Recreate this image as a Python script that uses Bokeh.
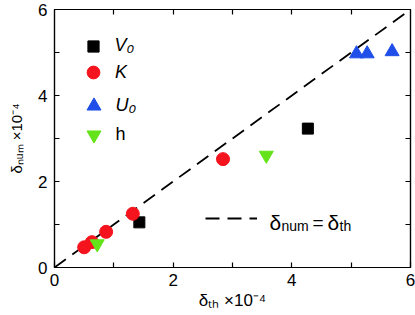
from bokeh.plotting import figure
from bokeh.models import Range1d, FixedTicker, LinearAxis, Legend, LegendItem, Label
from bokeh.embed import file_html
from bokeh.resources import INLINE

# ---- data (units of 1e-4) ----
v0_x = [1.43, 4.27]
v0_y = [1.05, 3.23]
k_x = [0.50, 0.63, 0.87, 1.32, 2.84]
k_y = [0.47, 0.59, 0.83, 1.25, 2.52]
u0_x = [5.09, 5.27, 5.69]
u0_y = [4.97, 4.97, 5.02]
h_x = [0.72, 3.57]
h_y = [0.55, 2.61]
ref_x = [0, 6]
ref_y = [0, 6]
major_ticks = [0, 2, 4, 6]
minor_ticks = [1, 3, 5]
mirror_ticks = [1, 2, 3, 4, 5]

FONT = "Liberation Sans"
FL = 54   # frame left (page px)
FB = 267  # frame bottom (page px)

p = figure(width=415, height=315, x_range=Range1d(0, 6), y_range=Range1d(0, 6),
           output_backend="svg", toolbar_location=None,
           min_border_left=54, min_border_right=5, min_border_top=9, min_border_bottom=48)
p.grid.visible = False
p.outline_line_color = "black"
p.outline_line_width = 1.2
p.background_fill_color = "white"
p.border_fill_color = "white"

def style_axis(ax):
    ax.major_tick_in = 5
    ax.major_tick_out = 0
    ax.minor_tick_in = 5
    ax.minor_tick_out = 0
    ax.major_tick_line_color = "black"
    ax.minor_tick_line_color = "black"
    ax.major_tick_line_width = 1.2
    ax.minor_tick_line_width = 1.2
    ax.axis_line_color = "black"
    ax.axis_line_width = 1.2

for ax in (p.xaxis[0], p.yaxis[0]):
    style_axis(ax)
    ax.ticker = FixedTicker(ticks=major_ticks, minor_ticks=minor_ticks)
    ax.major_label_text_font = FONT
    ax.major_label_text_font_size = "17px"
    ax.major_label_text_color = "black"
    ax.axis_label_text_font = FONT
    ax.axis_label_text_font_style = "normal"
    ax.axis_label_text_color = "black"

p.xaxis[0].major_label_standoff = 6
p.yaxis[0].major_label_standoff = 7

p.xaxis[0].axis_label = "\u03b4\u209c\u2095 \u00d710\u207b\u2074"
p.xaxis[0].axis_label_text_font_size = "17px"
p.xaxis[0].axis_label_standoff = 2

p.yaxis[0].axis_label = "\u03b4\u2099\u1d64\u2098 \u00d710\u207b\u2074"
p.yaxis[0].axis_label_text_font_size = "15px"
p.yaxis[0].axis_label_standoff = 10

# mirrored tick marks on top and right (no labels)
top = LinearAxis(ticker=FixedTicker(ticks=[], minor_ticks=mirror_ticks))
right = LinearAxis(ticker=FixedTicker(ticks=[], minor_ticks=mirror_ticks))
for ax in (top, right):
    style_axis(ax)
    ax.major_label_standoff = 0
p.add_layout(top, "above")
p.add_layout(right, "right")

# reference line
line_r = p.line(ref_x, ref_y, line_color="black", line_width=1.8, line_dash="14 8")

sq = p.scatter(v0_x, v0_y, marker="square", size=11, fill_color="black", line_color="black")
ci = p.scatter(k_x, k_y, marker="circle", size=13, fill_color="#f5141e", line_color="#f5141e")
tu = p.scatter(u0_x, u0_y, marker="triangle", size=14, fill_color="#1f4fe8", line_color="#1f4fe8")
td = p.scatter(h_x, h_y, marker="inverted_triangle", size=14, fill_color="#64e31a", line_color="#64e31a")

def leg(label, r, loc, gw, gh, standoff, style="italic", size="18px"):
    lg = Legend(items=[LegendItem(label=label, renderers=[r])], location=loc,
                glyph_width=gw, glyph_height=gh, label_height=gh,
                label_standoff=standoff, padding=0, margin=0, spacing=0,
                border_line_alpha=0, background_fill_alpha=0,
                label_text_font=FONT, label_text_font_style=style,
                label_text_font_size=size, label_text_color="black")
    p.add_layout(lg)

leg("V\u2080", sq, (24.5, 207.5), 28, 28, 8)
leg("K", ci, (23, 179), 32, 32, 6)
leg("U\u2080", tu, (21.5, 144.5), 35, 35, 5)
leg("h", td, (21.5, 115.5), 35, 35, 5, style="normal")
leg("\u2009", line_r, (151, 39), 52, 20, 0, style="normal")

def txt(s, px, py, size):
    p.add_layout(Label(x=px - FL, y=FB - py, x_units="screen", y_units="screen",
                       text=s, text_font=FONT, text_font_size=f"{size}px",
                       text_baseline="alphabetic", text_align="left",
                       text_color="black"))

# legend text for reference line
txt("\u03b4", 269, 222, 21)
txt("num", 281, 225, 14)
txt("=", 312, 222, 19)
txt("\u03b4", 327, 222, 21)
txt("th", 339, 225, 14)

open("out.html", "w").write(file_html(p, INLINE))
